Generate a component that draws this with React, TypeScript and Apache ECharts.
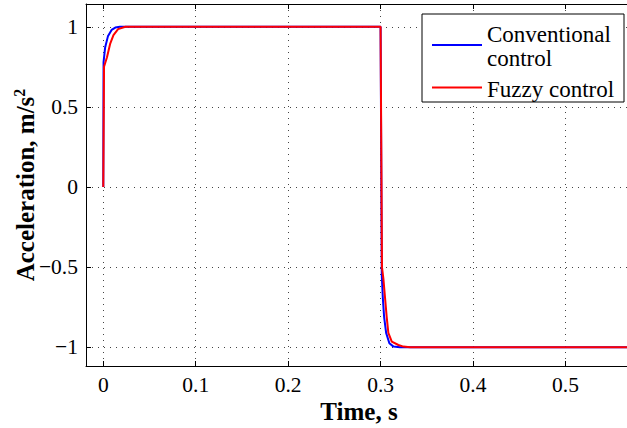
import React, { useEffect, useRef } from "react";
import * as echarts from "echarts";

// Time (s) and acceleration (m/s^2) samples
const conventionalTime = [0, 0.0003, 0.002, 0.005, 0.009, 0.013, 0.018, 0.3, 0.3005, 0.3013, 0.3024, 0.3038, 0.306, 0.3095, 0.314, 0.321, 0.6];
const conventionalAccel = [0, 0.78, 0.87, 0.94, 0.98, 0.995, 1.0, 1.0, 1.0, -0.55, -0.69, -0.81, -0.91, -0.975, -0.996, -1.0, -1.0];

const fuzzyTime = [0, 0.0008, 0.004, 0.0075, 0.011, 0.016, 0.024, 0.3, 0.3005, 0.3015, 0.303, 0.3048, 0.3066, 0.3084, 0.3121, 0.3193, 0.3247, 0.332, 0.6];
const fuzzyAccel = [0, 0.75, 0.81, 0.895, 0.948, 0.985, 1.0, 1.0, 1.0, -0.5, -0.57, -0.69, -0.81, -0.91, -0.965, -0.986, -0.996, -1.0, -1.0];

const seriesNames = ["Conventional control", "Fuzzy control"];
const legendLines = [["Conventional", "control"], ["Fuzzy control"]];
const xTitle = "Time, s";
const yTitle = "Acceleration, m/s";

const FONT = "Liberation Serif";

function fmt(v: number): string {
  if (Math.abs(v * 10 - Math.round(v * 10)) > 1e-6) return "";
  const r = Math.round(v * 10) / 10;
  const s = String(Math.abs(r));
  return r < 0 ? "\u2212" + s : s;
}
function fmtY(v: number): string {
  if (Math.abs(v * 2 - Math.round(v * 2)) > 1e-6) return "";
  const r = Math.round(v * 2) / 2;
  const s = String(Math.abs(r));
  return r < 0 ? "\u2212" + s : s;
}

export default function App() {
  const ref = useRef<HTMLDivElement>(null);
  useEffect(() => {
    if (!ref.current) return;
    const chart = echarts.init(ref.current, undefined, { renderer: "svg" });
    const zip = (t: number[], a: number[]) => t.map((x, i) => [x, a[i]]);
    const xMin = -0.0187;
    const xMax = 0.572;
    const yMin = -1.117;
    const yMax = 1.142;
    const axisLine = { show: true, onZero: false, lineStyle: { color: "#000", width: 1 } };
    const tick = { show: true, inside: true, length: 5, lineStyle: { color: "#000", width: 1 } };
    const split = { show: true, lineStyle: { color: "#444", width: 1, type: [1, 5] as any } };
    const labelStyle = { fontFamily: FONT, fontSize: 21.5, color: "#000" };
    const legendText = { fontFamily: FONT, fontSize: 23, fill: "#000", align: "left", verticalAlign: "middle" };
    chart.setOption({
      animation: false,
      backgroundColor: "#fff",
      textStyle: { fontFamily: FONT },
      grid: { left: 86, top: 4, right: 8, bottom: 62, containLabel: false },
      xAxis: [
        {
          type: "value", min: xMin, max: xMax, splitNumber: 6, position: "bottom",
          axisLine, axisTick: tick, splitLine: split,
          axisLabel: { show: true, formatter: fmt, ...labelStyle, margin: 8, showMinLabel: false, showMaxLabel: false },
        },
        {
          type: "value", min: xMin, max: xMax, splitNumber: 6, position: "top",
          axisLine, axisTick: tick, splitLine: { show: false }, axisLabel: { show: false },
        },
      ],
      yAxis: [
        {
          type: "value", min: yMin, max: yMax, splitNumber: 5, position: "left",
          axisLine, axisTick: tick, splitLine: split,
          axisLabel: { show: true, formatter: fmtY, ...labelStyle, margin: 8, showMinLabel: false, showMaxLabel: false },
        },
        {
          type: "value", min: yMin, max: yMax, splitNumber: 5, position: "right",
          axisLine, axisTick: tick, splitLine: { show: false }, axisLabel: { show: false },
        },
      ],
      series: [
        {
          name: seriesNames[0], type: "line", xAxisIndex: 0, yAxisIndex: 0,
          data: zip(conventionalTime, conventionalAccel), showSymbol: false, symbol: "none",
          lineStyle: { color: "#0000ff", width: 2 }, itemStyle: { color: "#0000ff" },
        },
        {
          name: seriesNames[1], type: "line", xAxisIndex: 0, yAxisIndex: 0,
          data: zip(fuzzyTime, fuzzyAccel), showSymbol: false, symbol: "none",
          lineStyle: { color: "#ff0000", width: 2 }, itemStyle: { color: "#ff0000" },
        },
      ],
      graphic: [
        {
          type: "text", x: 359, y: 411,
          style: { text: xTitle, fontFamily: FONT, fontSize: 25, fontWeight: "bold", fill: "#000", align: "center", verticalAlign: "middle" },
        },
        {
          type: "text", x: 25, y: 185, rotation: Math.PI / 2,
          style: {
            text: yTitle + "{sup|2}",
            fontFamily: FONT, fontSize: 25, fontWeight: "bold", fill: "#000",
            align: "center", verticalAlign: "middle",
            rich: { sup: { fontFamily: FONT, fontSize: 16, fontWeight: "bold", fill: "#000", verticalAlign: "top", padding: [0, 0, 12, 0] } },
          },
        },
        {
          type: "rect", shape: { x: 422, y: 14, width: 202, height: 88 },
          style: { fill: "#fff", stroke: "#000", lineWidth: 1 }, z: 100,
        },
        { type: "line", shape: { x1: 432, y1: 45, x2: 482, y2: 45 }, style: { stroke: "#0000ff", lineWidth: 2 }, z: 101 },
        { type: "line", shape: { x1: 432, y1: 87.5, x2: 482, y2: 87.5 }, style: { stroke: "#ff0000", lineWidth: 2 }, z: 101 },
        { type: "text", x: 487, y: 34.7, z: 101, style: { text: legendLines[0][0], ...legendText } },
        { type: "text", x: 487, y: 58, z: 101, style: { text: legendLines[0][1], ...legendText } },
        { type: "text", x: 487, y: 89.7, z: 101, style: { text: legendLines[1][0], ...legendText } },
      ],
    });
    return () => chart.dispose();
  }, []);
  return (
    <div style={{ position: "fixed", left: 0, top: 0, width: 627, height: 428, overflow: "hidden", background: "#fff" }}>
      <div ref={ref} style={{ width: 640, height: 428 }} />
    </div>
  );
}
